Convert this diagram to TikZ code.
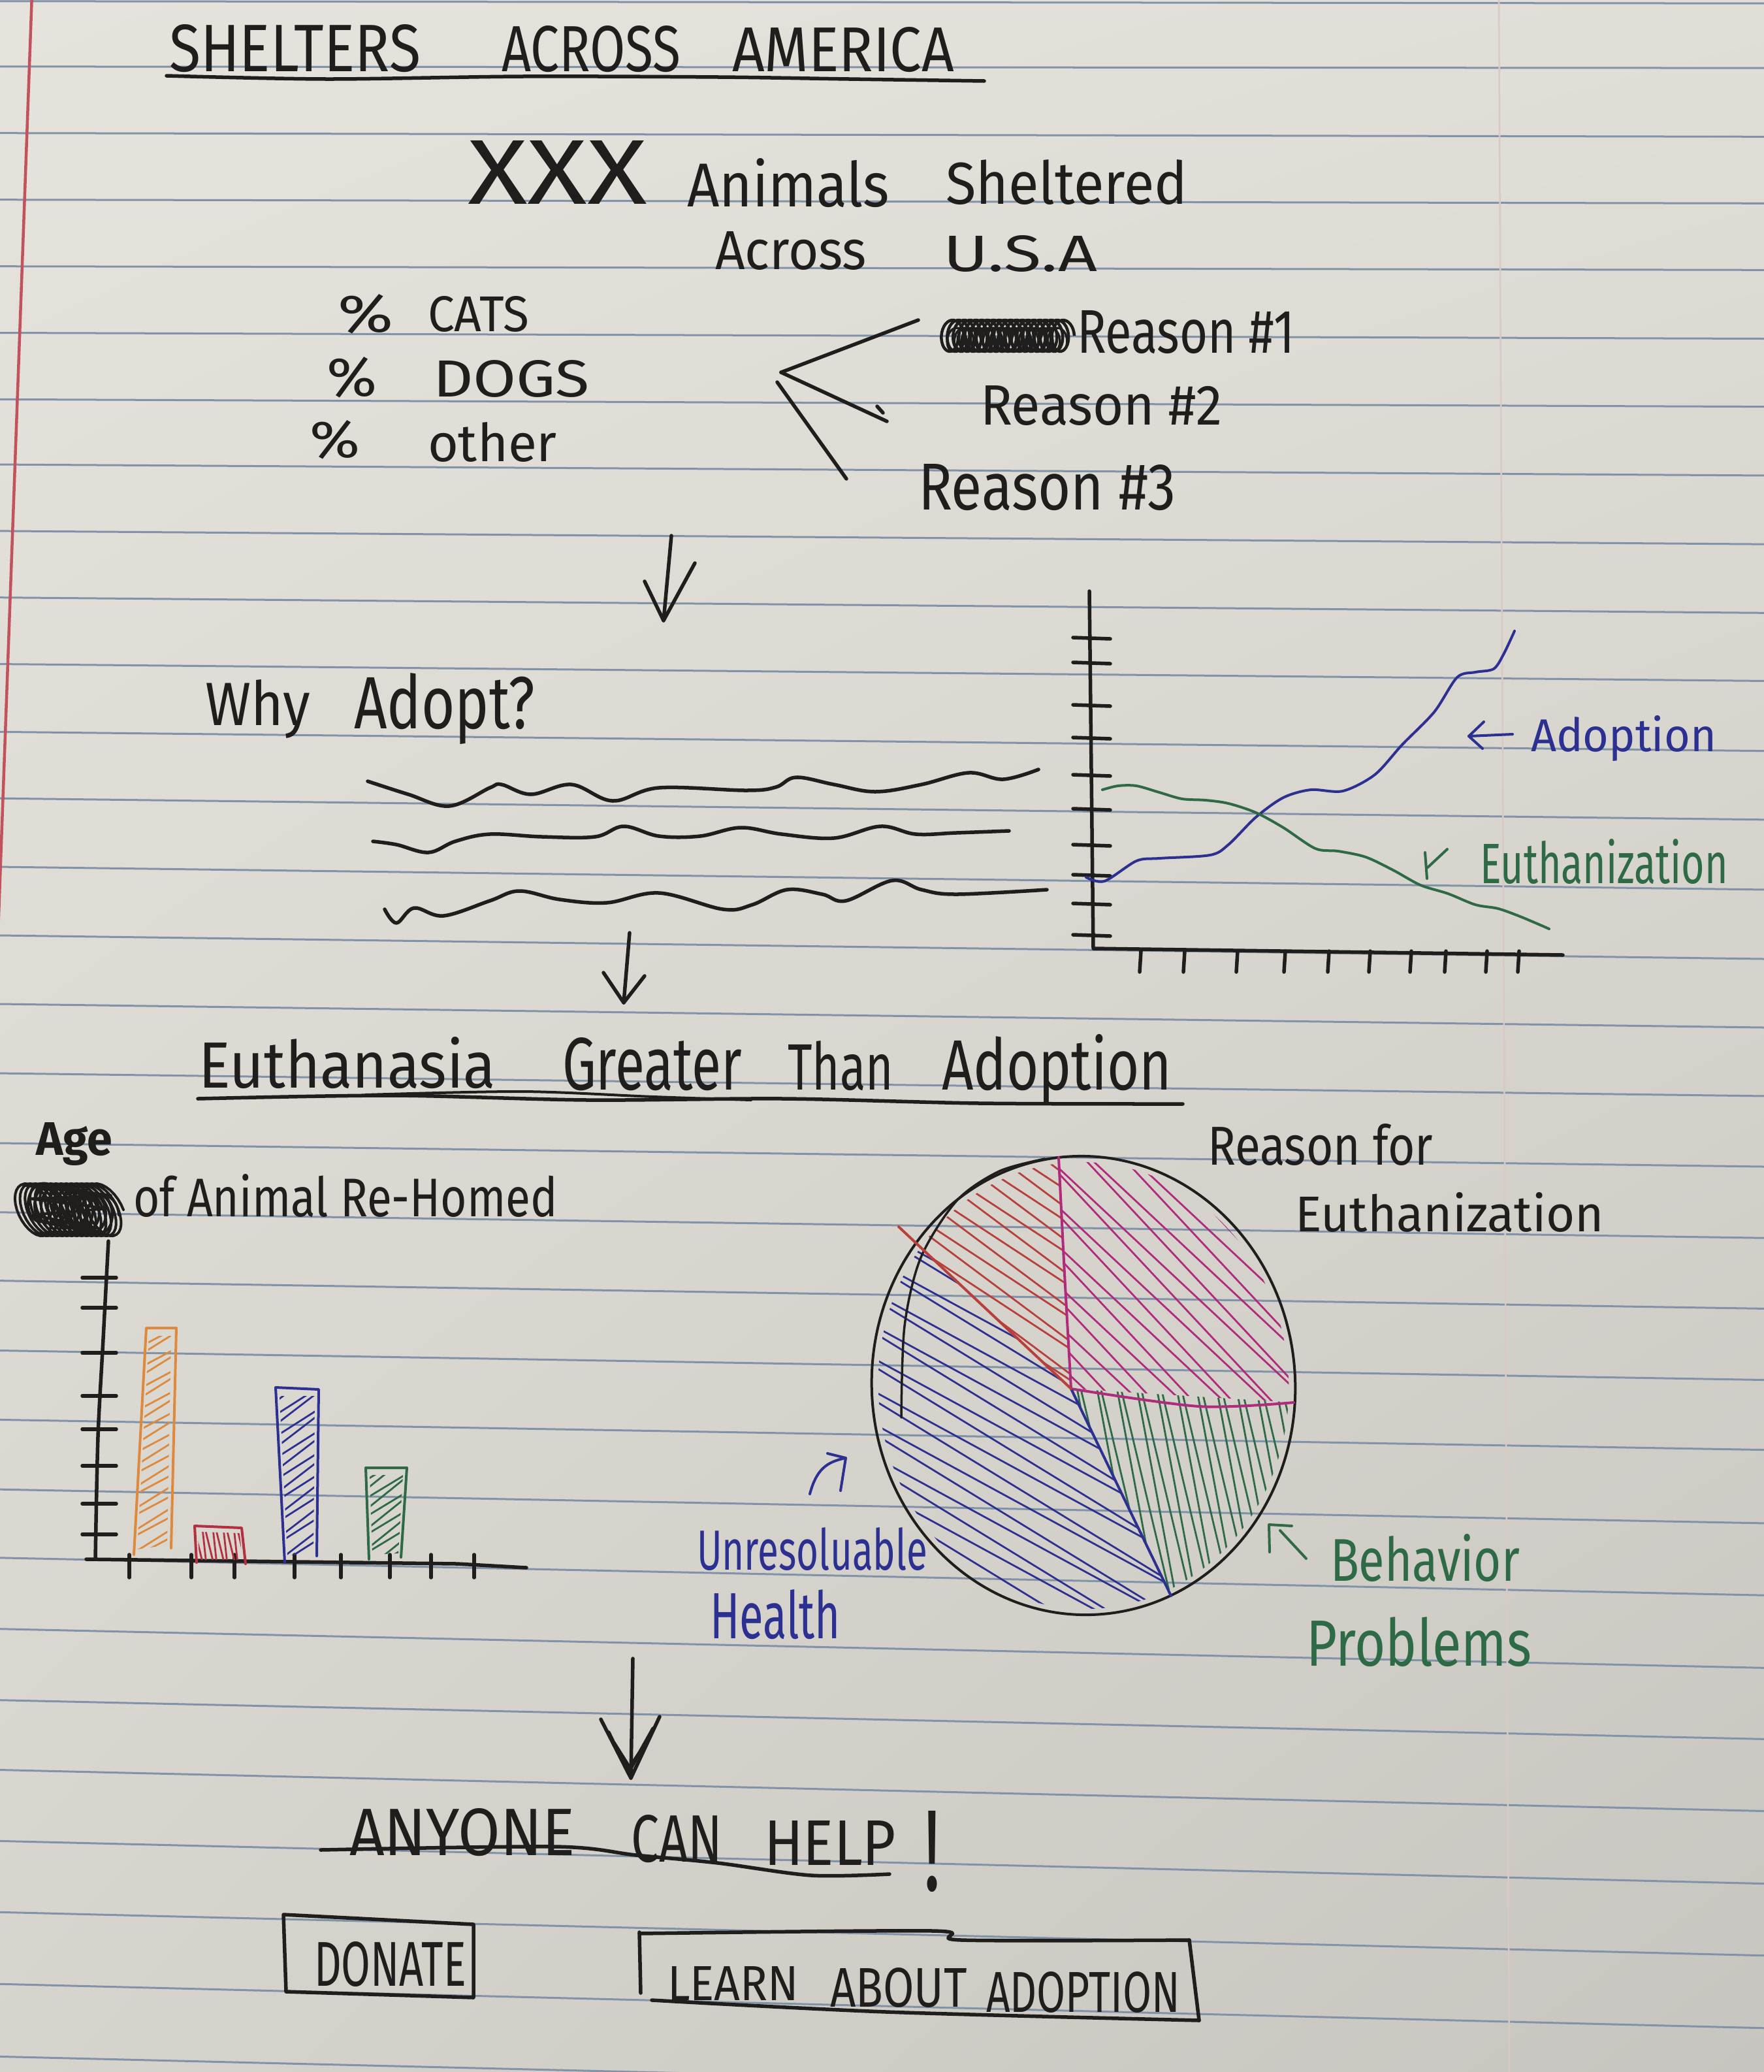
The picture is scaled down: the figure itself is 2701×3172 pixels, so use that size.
\documentclass[tikz,border=0pt]{standalone}
\usepackage{fontspec}
\setmainfont{Fira Sans}
\usepackage{graphicx}
\usetikzlibrary{calc,shadings}

\definecolor{paperTL}{HTML}{E6E3DC}
\definecolor{paperTR}{HTML}{E1DED7}
\definecolor{paperBL}{HTML}{D7D4CD}
\definecolor{paperBR}{HTML}{C7C5BF}
\definecolor{ruleC}{HTML}{8193A8}
\definecolor{marginC}{HTML}{C2535C}
\definecolor{faintC}{HTML}{D9C9C4}
\definecolor{inkK}{HTML}{1F1E1D}
\definecolor{inkB}{HTML}{2B3091}
\definecolor{inkG}{HTML}{2E6A45}
\definecolor{inkM}{HTML}{B12B7D}
\definecolor{inkR}{HTML}{B8403C}
\definecolor{inkO}{HTML}{DE8A3E}
\definecolor{inkRb}{HTML}{B2303F}

% one drawing unit is one pixel of the sheet
\newlength\pxu
\setlength\pxu{0.01cm}
% handwritten word squeezed into a given width and height (in pixels)
\newcommand\hw[3]{\resizebox{#1\pxu}{#2\pxu}{#3}}
% zig-zag pen hatching: colour, centre x, centre y, angle, gap, half size, loops
\newcommand\zigzag[7]{%
  \begin{scope}[shift={(#2,#3)}, rotate=#4]
    \draw[hatch,#1] (-#6,-#6) \foreach \k in {0,...,#7} {
      -- (#6,{-#6+(2*\k+1)*#5}) -- (-#6,{-#6+(2*\k+2)*#5}) };
  \end{scope}}

\begin{document}
\begin{tikzpicture}[x=0.01cm, y=-0.01cm,
  pen/.style={draw=inkK, line width=0.055cm, line cap=round, line join=round},
  penthin/.style={line width=0.04cm, line cap=round, line join=round},
  hatch/.style={line width=0.028cm, line cap=round, line join=round},
  txt/.style={anchor=base west, inner sep=0pt, outer sep=0pt, text=inkK},
  rule/.style={draw=ruleC, line width=0.03cm, shorten <=-1.6cm, shorten >=-1.6cm}]

\useasboundingbox (0,0) rectangle (2701,3172);
\shade[upper left=paperTL, upper right=paperTR, lower left=paperBL, lower right=paperBR]
  (0,0) rectangle (2701,3172);

% ---------------- ruled notebook paper ----------------
\foreach \a/\b in {2/5, 102/104, 204/209, 306/311, 408/413, 510/518, 612/622,
  712/727, 814/832, 916/937, 1018/1041, 1122/1148, 1224/1253, 1329/1360,
  1434/1466, 1539/1571, 1645/1676, 1752/1784, 1858/1893, 1963/2001,
  2070/2110, 2176/2217, 2283/2329, 2388/2439, 2497/2550, 2606/2659,
  2713/2769, 2822/2880, 2931/2990, 3041/3101, 3152/3210}
  \draw[rule] (150,\a) -- (2550,\b);
\draw[marginC, line width=0.045cm] (49,-10) -- (-3,1430);
\draw[faintC, line width=0.025cm] (2295,0) -- (2311,3172);

% ---------------- title ----------------
\node[txt] (ttlA) at (259,109) {\hw{385}{72}{SHELTERS}};
\node[txt] (ttlB) at (768,109) {\hw{274}{70}{ACROSS}};
\node[txt] (ttlC) at (1121,109) {\hw{340}{68}{AMERICA}};
\draw[pen] plot[smooth] coordinates {(255,116) (500,121) (800,117) (1100,118) (1300,121) (1507,124)};

% ---------------- headline number ----------------
\node[txt] (xxx) at (716,312) {\hw{275}{97}{XXX}};
\node[txt] (animals) at (1052,316) {\hw{310}{74}{Animals}};
\node[txt] (shelt) at (1448,312) {\hw{370}{68}{Sheltered}};
\node[txt] (across) at (1095,412) {\hw{232}{58}{Across}};
\node[txt] (usa) at (1444,415) {\hw{236}{55}{U.S.A}};

% ---------------- share of species ----------------
\node[txt] (pc1) at (517,508) {\hw{85}{58}{\%}};
\node[txt] (cats) at (655,507) {\hw{155}{54}{CATS}};
\node[txt] (pc2) at (500,606) {\hw{77}{60}{\%}};
\node[txt] (dogs) at (663,607) {\hw{240}{56}{DOGS}};
\node[txt] (pc3) at (474,700) {\hw{77}{57}{\%}};
\node[txt] (other) at (655,706) {\hw{198}{60}{other}};

% ---------------- reasons ----------------
% crossed-out word: dense pen loops
\draw[line width=0.045cm, draw=inkK] plot[domain=0:7200, samples=600]
  ({1452+\x/7200*178+15*cos(\x)}, {514+24*sin(\x)});
\draw[line width=0.035cm, draw=inkK] plot[domain=0:5400, samples=450]
  ({1458+\x/5400*165+12*cos(\x+40)}, {520+18*sin(\x+40)});
\node[txt] (rs1) at (1649,540) {\hw{334}{65}{Reason \#1}};
\node[txt] (rs2) at (1501,650) {\hw{370}{60}{Reason \#2}};
\node[txt] (rs3) at (1406,780) {\hw{394}{70}{Reason \#3}};
\coordinate (fork) at (1196,570);
\coordinate (forkA) at (1406,490);
\coordinate (forkB) at (1358,645);
\coordinate (forkC) at (1296,733);
\coordinate (forkC0) at (1190,585);
\draw[pen] (fork) -- (forkA);
\draw[pen] (fork) -- (forkB);
\draw[pen] (1343,622) -- (1352,632);
\draw[pen] (forkC0) -- (forkC);

% ---------------- arrow to "Why Adopt?" ----------------
\coordinate (ar1s) at (1028,820);
\coordinate (ar1t) at (1016,950);
\draw[pen] (ar1s) -- (ar1t);
\draw[pen] (987,890) -- (ar1t) -- (1064,862);

% ---------------- why adopt ----------------
\node[txt] (why) at (314,1110) {\hw{161}{70}{Why}};
\node[txt] (adopt) at (542,1115) {\hw{277}{85}{Adopt?}};
\draw[pen] plot[smooth, tension=0.6] coordinates {(563,1196) (625,1216) (688,1234) (750,1206) (768,1201) (813,1216) (875,1201) (938,1226) (1009,1206) (1143,1210) (1188,1205) (1219,1190) (1277,1201) (1340,1212) (1411,1201) (1483,1183) (1536,1193) (1590,1178)};
\draw[pen] plot[smooth, tension=0.6] coordinates {(571,1288) (607,1293) (656,1305) (697,1288) (750,1277) (830,1281) (911,1281) (955,1265) (1009,1280) (1072,1280) (1134,1267) (1197,1277) (1277,1283) (1348,1265) (1402,1277) (1464,1275) (1545,1272)};
\draw[pen] plot[smooth, tension=0.6] coordinates {(589,1392) (607,1413) (634,1390) (679,1402) (750,1379) (795,1364) (857,1377) (929,1382) (1009,1367) (1107,1392) (1152,1385) (1205,1362) (1259,1369) (1295,1379) (1366,1348) (1411,1362) (1464,1369) (1603,1362)};

% ---------------- line chart ----------------
\coordinate (lcO) at (1674,1452);
\coordinate (lcY) at (1668,905);
\coordinate (lcX) at (2393,1462);
\draw[pen] (lcY) -- (lcO) -- (lcX);
\foreach \t in {976,1014,1079,1129,1186,1238,1293,1339,1383,1431}
  \draw[pen] (1643,\t) -- (1700,{\t+2});
\foreach \t in {1747,1814,1895,1968,2035,2098,2161,2214,2277,2326}
  \draw[pen] (\t,1456) -- ({\t-2},1488);
\draw[penthin, draw=inkB] plot[smooth, tension=0.5] coordinates {(1663,1343) (1691,1349) (1740,1318) (1775,1314) (1853,1309) (1881,1293) (1923,1251) (1965,1221) (2007,1209) (2056,1211) (2105,1186) (2147,1140) (2196,1090) (2231,1037) (2259,1029) (2287,1024) (2302,1002) (2319,966)};
\draw[penthin, draw=inkG] plot[smooth, tension=0.5] coordinates {(1688,1209) (1712,1203) (1740,1203) (1775,1213) (1810,1223) (1846,1225) (1881,1230) (1923,1244) (1965,1267) (2014,1299) (2049,1303) (2091,1312) (2133,1332) (2175,1355) (2217,1368) (2259,1385) (2294,1391) (2330,1404) (2372,1422)};
\coordinate (adT) at (2249,1127);
\draw[penthin, draw=inkB] (adT) -- (2316,1124);
\draw[penthin, draw=inkB] (2272,1105) -- (adT) -- (2270,1146);
\node[txt, text=inkB] (adlab) at (2344,1150) {\hw{284}{55}{Adoption}};
\draw[penthin, draw=inkG] (2182,1305) -- (2185,1345);
\draw[penthin, draw=inkG] (2216,1300) -- (2186,1328);
\node[txt, text=inkG] (eulab) at (2266,1352) {\hw{380}{68}{Euthanization}};

% ---------------- arrow to section 3 ----------------
\coordinate (ar2s) at (964,1428);
\coordinate (ar2t) at (955,1535);
\draw[pen] (ar2s) -- (ar2t);
\draw[pen] (924,1489) -- (ar2t) -- (987,1494);

% ---------------- heading ----------------
\node[txt] (euth) at (304,1665) {\hw{455}{78}{Euthanasia}};
\node[txt] (greater) at (861,1668) {\hw{275}{80}{Greater}};
\node[txt] (than) at (1206,1668) {\hw{162}{75}{Than}};
\node[txt] (adoption) at (1442,1668) {\hw{352}{85}{Adoption}};
\draw[pen] plot[smooth] coordinates {(303,1682) (600,1677) (900,1684) (1200,1682) (1500,1689) (1811,1690)};
\draw[pen, line width=0.04cm] plot[smooth] coordinates {(560,1676) (800,1671) (1000,1679) (1150,1684)};

% ---------------- bar chart ----------------
\node[txt] (age) at (55,1768) {\hw{117}{50}{\bfseries Age}};
% crossed-out word: tangled strokes
\draw[penthin, draw=inkK] plot[domain=0:5400, samples=450]
  ({48+\x/5400*115+26*cos(\x)+14*sin(\x)}, {1852+40*sin(\x)});
\draw[penthin, draw=inkK] plot[domain=0:3600, samples=300]
  ({60+\x/3600*100+22*cos(\x)}, {1840+30*sin(\x)+\x/3600*20});
\draw[penthin, draw=inkK] (40,1815) -- (170,1830) -- (45,1835) -- (165,1850) -- (50,1860) -- (150,1880);
\node[txt] (ofanimal) at (204,1862) {\hw{650}{65}{of Animal Re-Homed}};
\coordinate (bcY) at (166,1900);
\coordinate (bcO) at (146,2387);
\coordinate (bcX) at (806,2400);
\draw[pen] plot[smooth] coordinates {(bcY) (158,2050) (150,2200) (bcO)};
\draw[pen] (132,2387) -- (700,2394) -- (bcX);
\foreach \t in {1956,2002,2071,2137,2188,2244,2302,2349}
  \draw[pen] (126,\t) -- (178,\t);
\foreach \t in {198,293,359,451,522,597,660,726}
  \draw[pen] (\t,2380) -- (\t,2415);
% bars
\begin{scope}
  \clip (228,2045) -- (262,2045) -- (256,2365) -- (210,2372) -- cycle;
  \zigzag{draw=inkO}{237}{2205}{30}{14}{200}{15}
\end{scope}
\draw[penthin, draw=inkO] (205,2380) -- (224,2033) -- (270,2033) -- (262,2370);
\begin{scope}
  \clip (303,2345) -- (367,2347) -- (371,2388) -- (305,2388) -- cycle;
  \zigzag{draw=inkRb}{337}{2367}{-80}{8}{60}{8}
\end{scope}
\draw[penthin, draw=inkRb] (301,2392) -- (298,2336) -- (370,2339) -- (376,2394);
\begin{scope}
  \clip (428,2137) -- (482,2137) -- (480,2375) -- (440,2382) -- cycle;
  \zigzag{draw=inkB}{458}{2258}{35}{14}{160}{12}
\end{scope}
\draw[penthin, draw=inkB] (436,2392) -- (422,2124) -- (488,2127) -- (485,2382);
\begin{scope}
  \clip (566,2258) -- (617,2258) -- (610,2378) -- (570,2380) -- cycle;
  \zigzag{draw=inkG}{590}{2318}{35}{12}{90}{8}
\end{scope}
\draw[penthin, draw=inkG] (565,2387) -- (560,2247) -- (623,2247) -- (614,2384);

% ---------------- pie chart ----------------
\node[txt] (rfor) at (1849,1783) {\hw{345}{63}{Reason for}};
\node[txt] (reuth) at (1983,1885) {\hw{473}{60}{Euthanization}};
\coordinate (pc) at (1640,2126);
\begin{scope}
  \clip[rotate around={4:(1659,2121)}] (1659,2121) ellipse [x radius=3.14cm, y radius=3.42cm];
  \begin{scope}
    \clip (pc) -- (1112,1631) -- (1602,1419) -- cycle;
    \zigzag{draw=inkR}{1500}{1950}{-35}{20}{330}{17}
  \end{scope}
  \begin{scope}
    \clip (pc) -- (1602,1419) -- (2450,1419) -- (2450,2176) -- cycle;
    \zigzag{draw=inkM}{1810}{1950}{-45}{22}{330}{16}
  \end{scope}
  \begin{scope}
    \clip (pc) -- (2450,2176) -- (2450,3100) -- (2110,3100) -- cycle;
    \zigzag{draw=inkG}{1830}{2290}{-78}{15}{310}{21}
  \end{scope}
  \begin{scope}
    \clip (pc) -- (2110,3100) -- (900,3100) -- (900,1431) -- cycle;
    \zigzag{draw=inkB}{1520}{2230}{-30}{22}{430}{20}
  \end{scope}
\end{scope}
\draw[pen, line width=0.04cm, rotate around={4:(1659,2121)}] (1659,2121) ellipse [x radius=3.24cm, y radius=3.51cm];
\draw[pen, line width=0.035cm] plot[smooth] coordinates {(1380,2170) (1385,2030) (1410,1925) (1465,1838) (1530,1793) (1600,1774)};
\draw[penthin, draw=inkM] plot[smooth] coordinates {(1621,1772) (1630,1950) (pc)};
\draw[penthin, draw=inkM] plot[smooth] coordinates {(pc) (1836,2153) (1981,2147)};
\draw[penthin, draw=inkB] (pc) -- (1793,2443);
\draw[penthin, draw=inkR] (1376,1878) -- (pc);

% labels of the pie
\coordinate (uhT) at (1295,2232);
\draw[penthin, draw=inkB] (1240,2287) .. controls (1250,2250) and (1265,2238) .. (uhT);
\draw[penthin, draw=inkB] (1267,2225) -- (uhT) -- (1287,2282);
\node[txt, text=inkB] (unres) at (1067,2403) {\hw{353}{65}{Unresoluable}};
\node[txt, text=inkB] (health) at (1087,2508) {\hw{200}{75}{Health}};
\coordinate (bhT) at (1943,2334);
\draw[penthin, draw=inkG] (1944,2376) -- (bhT) -- (1978,2336);
\draw[penthin, draw=inkG] (1960,2343) -- (2000,2386);
\node[txt, text=inkG] (behav) at (2037,2420) {\hw{290}{72}{Behavior}};
\node[txt, text=inkG] (probl) at (2000,2550) {\hw{345}{75}{Problems}};

% ---------------- arrow to the call to action ----------------
\coordinate (ar3s) at (969,2539);
\coordinate (ar3t) at (966,2722);
\draw[pen] (ar3s) -- (ar3t);
\draw[pen] (920,2632) -- (ar3t) -- (1010,2628);
\draw[pen] (932,2652) -- (962,2714) -- (1000,2646);
\draw[pen] (940,2668) -- (964,2706) -- (992,2664);

% ---------------- call to action ----------------
\node[txt] (anyone) at (535,2840) {\hw{345}{72}{ANYONE}};
\node[txt] (can) at (966,2850) {\hw{140}{72}{CAN}};
\node[txt] (help) at (1170,2855) {\hw{202}{68}{HELP}};
\node[txt] (bang) at (1414,2894) {\hw{26}{122}{!}};
\draw[pen] plot[smooth] coordinates {(491,2832) (850,2827) (974,2840) (1099,2852) (1242,2871) (1362,2869)};

\coordinate (dTL) at (434,2931);
\coordinate (dTR) at (725,2946);
\coordinate (dBR) at (725,3058);
\coordinate (dBL) at (438,3049);
\draw[pen] (dTL) -- (dBL) -- (dBR) -- (dTR) -- cycle;
\node[txt] (donate) at (481,3040) {\hw{233}{68}{DONATE}};

\draw[pen] (979,2958) -- (981,3051);
\draw[pen] plot[smooth, tension=0.5] coordinates {(979,2960) (1429,2956) (1472,2970) (1821,2970)};
\draw[pen] (1821,2970) -- (1836,3093);
\draw[pen] plot[smooth] coordinates {(998,3062) (1357,3080) (1836,3093)};
\node[txt] (learn) at (1022,3062) {\hw{201}{52}{LEARN}};
\node[txt] (about) at (1271,3072) {\hw{210}{60}{ABOUT}};
\node[txt] (adopt2) at (1510,3080) {\hw{297}{62}{ADOPTION}};

\end{tikzpicture}
\end{document}
